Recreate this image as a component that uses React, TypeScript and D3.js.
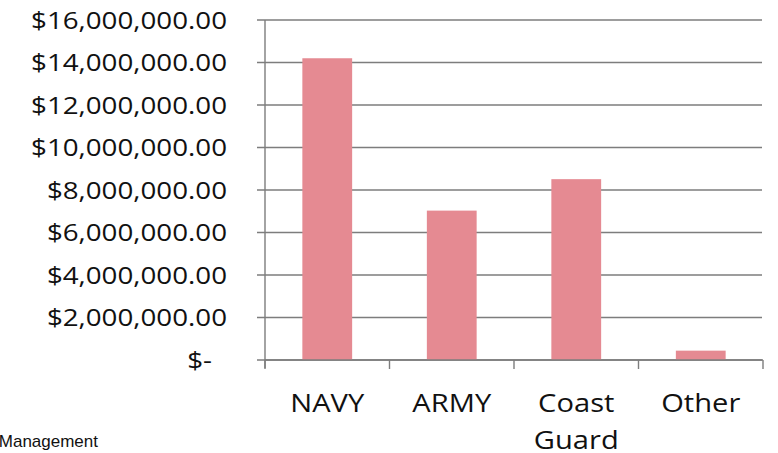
import React from "react";
import * as d3 from "d3";

const categories = ["NAVY", "ARMY", "Coast Guard", "Other"];
const values = [14200000, 7030000, 8510000, 440000];
const yTicks = [0, 2000000, 4000000, 6000000, 8000000, 10000000, 12000000, 14000000, 16000000];
const yTickLabels = ["$-", "$2,000,000.00", "$4,000,000.00", "$6,000,000.00", "$8,000,000.00", "$10,000,000.00", "$12,000,000.00", "$14,000,000.00", "$16,000,000.00"];
const footnote = "Management";

const W = 778;
const H = 453;
const left = 265;
const right = 763;
const top = 20;
const bottom = 360;
const barColor = "#e58a92";
const gridColor = "#7d7d7d";
const font = "'Open Sans', 'DejaVu Sans', sans-serif";

export default function App() {
  const x = d3.scaleBand<string>().domain(categories).range([left, right]).paddingInner(0.6).paddingOuter(0.3);
  const y = d3.scaleLinear().domain([0, 16000000]).range([bottom, top]);
  const step = x.step();
  const catEdges = d3.range(categories.length + 1).map((i) => left + i * step);

  return (
    <svg width={W} height={H} style={{ position: "absolute", left: 0, top: 0, background: "#fff" }}>
      {yTicks.map((t) => (
        <line key={"g" + t} x1={left - 8} x2={right - 1} y1={y(t)} y2={y(t)} stroke={gridColor} strokeWidth={1.4} />
      ))}
      {categories.map((c, i) => (
        <rect key={c} x={x(c)} y={y(values[i])} width={x.bandwidth()} height={y(0) - y(values[i])} fill={barColor} />
      ))}
      <line x1={left} x2={left} y1={top} y2={bottom + 8} stroke={gridColor} strokeWidth={1.4} />
      <line x1={left} x2={right} y1={bottom} y2={bottom} stroke={gridColor} strokeWidth={1.4} />
      {catEdges.map((e, i) => (
        <line key={"t" + i} x1={e} x2={e} y1={bottom} y2={bottom + 9} stroke={gridColor} strokeWidth={1.4} />
      ))}
      {yTicks.map((t, i) => (
        <text
          key={"l" + t}
          transform={`translate(${i === 0 ? 212 : 227},${y(t) + 8.5}) scale(1.18,1)`}
          textAnchor="end"
          fontFamily={font}
          fontSize={23.5}
          fill="#111"
        >
          {yTickLabels[i]}
        </text>
      ))}
      {categories.map((c) => {
        const cx = (x(c) as number) + x.bandwidth() / 2;
        return c.split(" ").map((w, j) => (
          <text
            key={c + j}
            transform={`translate(${cx},${411.5 + j * 37.5}) scale(1.12,1)`}
            textAnchor="middle"
            fontFamily={font}
            fontSize={26}
            fill="#111"
          >
            {w}
          </text>
        ));
      })}
      <text x={98} y={446.5} textAnchor="end" fontFamily="'Liberation Sans', Arial, sans-serif" fontSize={17} fill="#111">
        {footnote}
      </text>
    </svg>
  );
}
